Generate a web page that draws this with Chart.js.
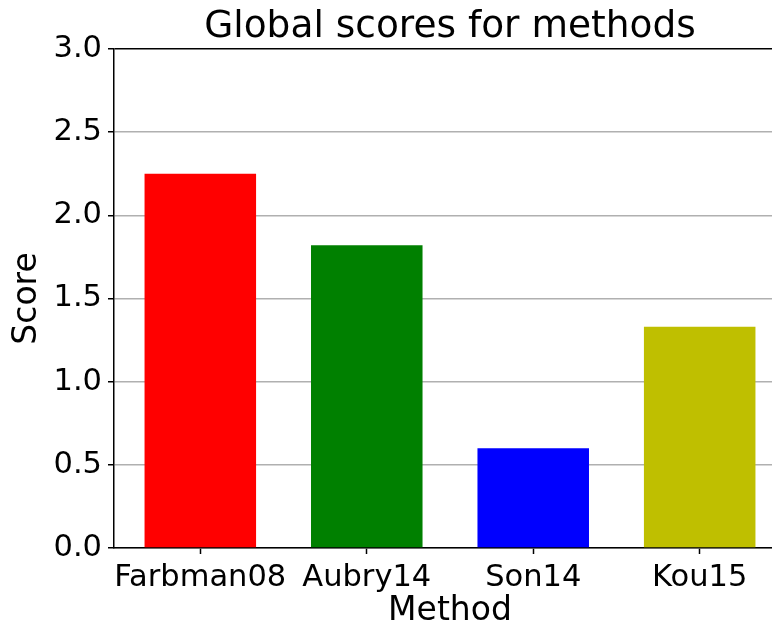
<!DOCTYPE html>
<html>
<head>
<meta charset="utf-8">
<script src="https://cdn.jsdelivr.net/npm/chart.js@4/dist/chart.umd.min.js"></script>
<style>
html,body{margin:0;padding:0;background:#fff;overflow:hidden;width:772px;height:628px;}
canvas{display:block;}
</style>
</head>
<body>
<canvas id="c" width="786" height="628"></canvas>
<script>
const categories = ["Farbman08", "Aubry14", "Son14", "Kou15"];
const scores = [2.25, 1.82, 0.60, 1.33];
const barColors = ["#ff0000", "#008000", "#0000ff", "#bfbf00"];
const yTicks = [0, 0.5, 1.0, 1.5, 2.0, 2.5, 3.0];

const FONT = "'DejaVu Sans', sans-serif";

new Chart(document.getElementById('c'), {
  type: 'bar',
  data: {
    datasets: [{
      data: categories.map((c, i) => ({x: i, y: scores[i]})),
      backgroundColor: barColors,
      borderWidth: 0,
      barPercentage: 0.67,
      categoryPercentage: 1.0
    }]
  },
  options: {
    responsive: false,
    animation: false,
    layout: {padding: {left: 0, right: 0, top: 0, bottom: 0}},
    plugins: {
      legend: {display: false},
      tooltip: {enabled: false},
      title: {
        display: true,
        fullSize: false,
        text: 'Global scores for methods',
        color: '#000',
        font: {family: FONT, size: 37.5, weight: 'normal', lineHeight: 1},
        padding: {top: 8.5, bottom: 3}
      }
    },
    scales: {
      x: {
        type: 'linear',
        offset: false,
        min: -0.5185,
        max: 3.5185,
        afterFit: (s) => { s.height = 80; },
        afterBuildTicks: (s) => { s.ticks = categories.map((c, i) => ({value: i})); },
        ticks: {
          autoSkip: false,
          maxRotation: 0,
          color: '#000',
          padding: 6,
          font: {family: FONT, size: 30.5},
          callback: (v) => categories[v]
        },
        grid: {
          offset: false,
          drawOnChartArea: false,
          drawTicks: true,
          tickLength: 6,
          tickColor: '#000',
          tickWidth: 1.5
        },
        border: {display: true, color: '#000', width: 1.5},
        title: {
          display: true,
          text: 'Method',
          color: '#000',
          font: {family: FONT, size: 33, lineHeight: 1},
          padding: {top: 0, bottom: 0}
        }
      },
      y: {
        type: 'linear',
        min: 0,
        max: 3,
        afterFit: (s) => { s.width = 114; },
        afterBuildTicks: (s) => { s.ticks = yTicks.map(v => ({value: v})); },
        ticks: {
          color: '#000',
          padding: 6,
          font: {family: FONT, size: 30.5},
          callback: (v) => Number(v).toFixed(1)
        },
        grid: {
          color: (ctx) => (ctx.tick && ctx.tick.value === 3) ? '#000' : '#b0b0b0',
          lineWidth: 1.5,
          drawTicks: true,
          tickLength: 6,
          tickColor: '#000',
          tickWidth: 1.5
        },
        border: {display: true, color: '#000', width: 1.5},
        title: {
          display: true,
          text: 'Score',
          color: '#000',
          font: {family: FONT, size: 33, lineHeight: 1},
          padding: {top: 10.5, bottom: 0}
        }
      }
    }
  }
});
</script>
</body>
</html>
